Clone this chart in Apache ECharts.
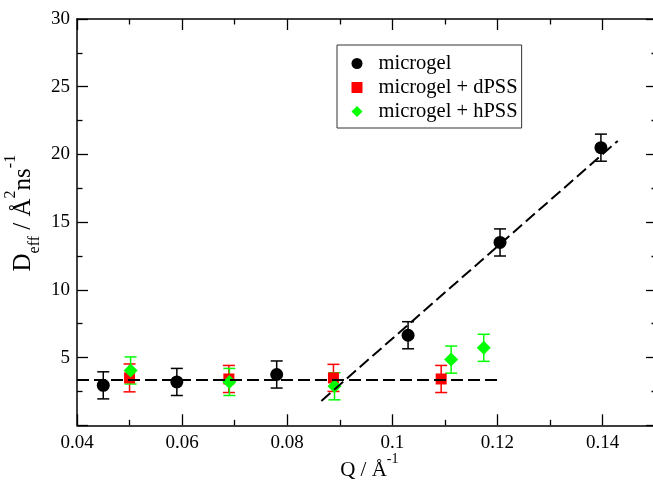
<!DOCTYPE html>
<html>
<head>
<meta charset="utf-8">
<script src="https://cdn.jsdelivr.net/npm/echarts@6/dist/echarts.min.js"></script>
<style>html,body{margin:0;padding:0;background:#fff;}#c{width:653px;height:482px;}</style>
</head>
<body>
<div id="c"></div>
<script>
// ---- data ----
const microgelQ   = [0.045, 0.059, 0.078, 0.103, 0.1205, 0.1397];
const microgelD   = [2.95, 3.2, 3.75, 6.65, 13.5, 20.5];
const microgelErr = [1.0, 1.0, 1.0, 1.0, 1.0, 1.0];

const dPSSQ   = [0.050, 0.0689, 0.0888, 0.1093];
const dPSSD   = [3.5, 3.42, 3.5, 3.42];
const dPSSErr = [1.03, 1.0, 1.0, 1.0];

const hPSSQ   = [0.0502, 0.069, 0.089, 0.1112, 0.1174];
const hPSSD   = [4.05, 3.2, 2.88, 4.85, 5.72];
const hPSSErr = [1.0, 1.0, 1.0, 1.0, 1.0];

const flatFitQ = [0.04, 0.1205];
const flatFitD = [3.35, 3.35];
const slopeFitQ = [0.0865, 0.1429];
const slopeFitD = [1.8, 21.0];

const xTickMin = 0.04, xTickMax = 0.16, xTickStep = 0.02;
const yTickMin = 0, yTickMax = 30, yTickStep = 5;

const seriesNames = ['microgel', 'microgel + dPSS', 'microgel + hPSS'];

// ---- helpers ----
const zip = (a, b, c) => a.map((v, i) => c ? [v, b[i], c[i]] : [v, b[i]]);
const FONT = '"Liberation Serif", "Times New Roman", serif';

function errRender(color) {
  return function (params, api) {
    const x = api.value(0), y = api.value(1), e = api.value(2);
    const t = api.coord([x, y + e]);
    const b = api.coord([x, y - e]);
    const hw = 6;
    const st = { stroke: color, lineWidth: 1.5 };
    return {
      type: 'group',
      children: [
        { type: 'line', shape: { x1: t[0], y1: t[1], x2: b[0], y2: b[1] }, style: st },
        { type: 'line', shape: { x1: t[0] - hw, y1: t[1], x2: t[0] + hw, y2: t[1] }, style: st },
        { type: 'line', shape: { x1: b[0] - hw, y1: b[1], x2: b[0] + hw, y2: b[1] }, style: st }
      ]
    };
  };
}

function errSeries(name, q, d, e, color) {
  return {
    type: 'custom', name: name, silent: true,
    renderItem: errRender(color),
    encode: { x: 0, y: 1 },
    data: zip(q, d, e),
    z: 2
  };
}

const axisLineStyle = { color: '#000', width: 1.5 };
const tickStyle = { color: '#000', width: 1.3 };

function xAxisCfg(pos, showLabel) {
  return {
    type: 'value', position: pos,
    min: xTickMin, max: xTickMax, interval: xTickStep,
    axisLine: { show: true, onZero: false, lineStyle: axisLineStyle },
    axisTick: { show: true, inside: true, length: 11, lineStyle: tickStyle },
    minorTick: { show: true, splitNumber: 2, length: 5.5, lineStyle: tickStyle },
    splitLine: { show: false }, minorSplitLine: { show: false },
    axisLabel: { show: showLabel, showMaxLabel: false, color: '#000', fontFamily: FONT, fontSize: 19, margin: 8 }
  };
}
function yAxisCfg(pos, showLabel, offset) {
  return {
    type: 'value', position: pos, offset: offset || 0,
    min: yTickMin, max: yTickMax, interval: yTickStep,
    axisLine: { show: true, onZero: false, lineStyle: axisLineStyle },
    axisTick: { show: true, inside: true, length: 11, lineStyle: tickStyle },
    minorTick: { show: true, splitNumber: 2, length: 5.5, lineStyle: tickStyle },
    splitLine: { show: false }, minorSplitLine: { show: false },
    axisLabel: { show: showLabel, showMinLabel: false, color: '#000', fontFamily: FONT, fontSize: 19, margin: 7 }
  };
}

const xRich = {
  b: { fontFamily: FONT, fontSize: 21, lineHeight: 36, color: '#000' },
  sup: { fontFamily: FONT, fontSize: 14, lineHeight: 14, verticalAlign: 'top', color: '#000' }
};
const yRich = {
  b: { fontFamily: FONT, fontSize: 25, lineHeight: 40, color: '#000' },
  sup: { fontFamily: FONT, fontSize: 16, lineHeight: 16, verticalAlign: 'top', color: '#000' },
  sub: { fontFamily: FONT, fontSize: 16, lineHeight: 16, verticalAlign: 'bottom', color: '#000' }
};

const xMain = xAxisCfg('bottom', true);
xMain.name = '{b|Q / Å}{sup|-1}';
xMain.nameLocation = 'middle';
xMain.nameGap = 27;
xMain.nameMoveOverlap = false;
xMain.nameTextStyle = { rich: xRich, padding: [0, 46, 0, 0] };

const yMain = yAxisCfg('left', true);
yMain.name = '{b|D}{sub|eff}{b| / Å}{sup|2}{b|ns}{sup|-1}';
yMain.nameLocation = 'middle';
yMain.nameRotate = 90;
yMain.nameGap = 34;
yMain.nameMoveOverlap = false;
yMain.nameTextStyle = { rich: yRich, padding: [0, 0, 0, 18] };

const chart = echarts.init(document.getElementById('c'), null, { renderer: 'canvas' });
chart.setOption({
  animation: false,
  backgroundColor: '#fff',
  textStyle: { fontFamily: FONT },
  grid: { left: 77, top: 19, right: -54.6, bottom: 56.7, outerBoundsMode: 'none', containLabel: false },
  xAxis: [xMain, xAxisCfg('top', false)],
  yAxis: [yMain, yAxisCfg('right', false, -50.6)],
  legend: {
    show: true, orient: 'vertical', left: 337, top: 45,
    data: seriesNames,
    itemWidth: 11, itemHeight: 11, itemGap: 3,
    padding: [8, 4, 6, 14.5],
    backgroundColor: '#fff', borderColor: '#333', borderWidth: 1,
    textStyle: { fontFamily: FONT, fontSize: 20.5, color: '#000', lineHeight: 20, padding: [0, 0, 0, 11] },
    selectedMode: false
  },
  series: [
    errSeries('err-microgel', microgelQ, microgelD, microgelErr, '#000'),
    { type: 'scatter', name: seriesNames[0], symbol: 'circle', symbolSize: 13,
      itemStyle: { color: '#000', opacity: 1 }, data: zip(microgelQ, microgelD), z: 3 },
    errSeries('err-dPSS', dPSSQ, dPSSD, dPSSErr, '#ff0000'),
    { type: 'scatter', name: seriesNames[1], symbol: 'rect', symbolSize: 11,
      itemStyle: { color: '#ff0000', opacity: 1 }, data: zip(dPSSQ, dPSSD), z: 3 },
    errSeries('err-hPSS', hPSSQ, hPSSD, hPSSErr, '#00ff00'),
    { type: 'scatter', name: seriesNames[2], symbol: 'diamond', symbolSize: 14,
      itemStyle: { color: '#00ff00', opacity: 1 }, data: zip(hPSSQ, hPSSD), z: 3 },
    { type: 'line', name: 'fit-flat', data: zip(flatFitQ, flatFitD), showSymbol: false, symbol: 'none',
      lineStyle: { color: '#000', width: 2, type: [12, 5] }, z: 4, silent: true },
    { type: 'line', name: 'fit-slope', data: zip(slopeFitQ, slopeFitD), showSymbol: false, symbol: 'none',
      lineStyle: { color: '#000', width: 2, type: [12, 5] }, z: 4, silent: true }
  ]
});
</script>
</body>
</html>
